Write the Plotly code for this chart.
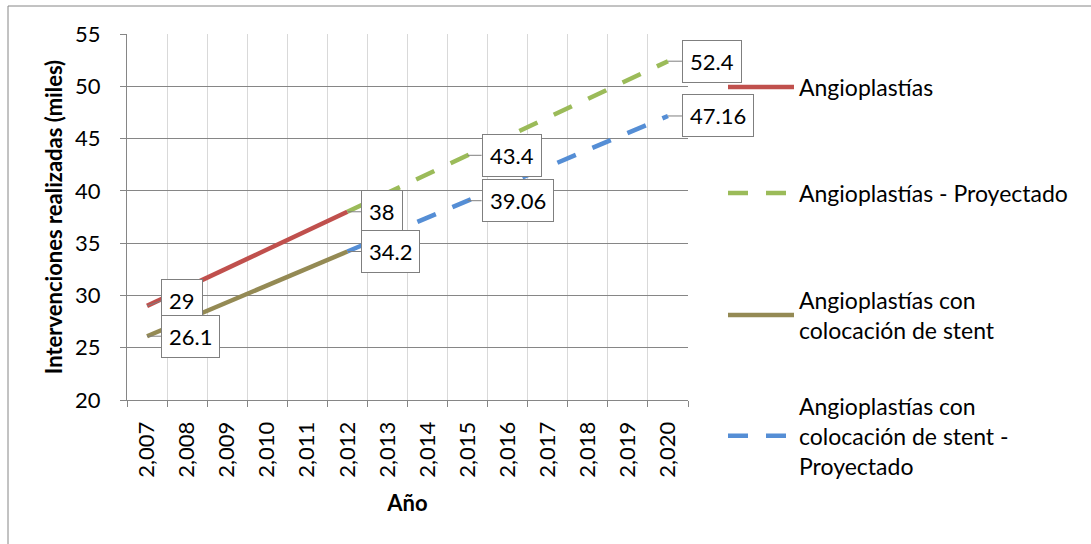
import plotly.graph_objects as go

# ---------------- data ----------------
years_real = [2007, 2008, 2009, 2010, 2011, 2012]
years_proj = [2012, 2013, 2014, 2015, 2016, 2017, 2018, 2019, 2020]

angioplastias = [29, 30.8, 32.6, 34.4, 36.2, 38]
angioplastias_proj = [38, 39.8, 41.6, 43.4, 45.2, 47.0, 48.8, 50.6, 52.4]
stent = [26.1, 27.72, 29.34, 30.96, 32.58, 34.2]
stent_proj = [34.2, 35.82, 37.44, 39.06, 40.68, 42.3, 43.92, 45.54, 47.16]

tick_years = [2007, 2008, 2009, 2010, 2011, 2012, 2013, 2014,
              2015, 2016, 2017, 2018, 2019, 2020]
tick_labels = ["2,007", "2,008", "2,009", "2,010", "2,011", "2,012", "2,013",
               "2,014", "2,015", "2,016", "2,017", "2,018", "2,019", "2,020"]

names = ["Angioplastías",
         "Angioplastías - Proyectado",
         "Angioplastías con<br>colocación de stent",
         "Angioplastías con<br>colocación de stent -<br>Proyectado"]
colors = ["#C0504D", "#9BBB59", "#948A54", "#558ED5"]

FONT = "Lato, 'Open Sans', sans-serif"
GRID_DARK = "#868686"
GRID_LIGHT = "#D9D9D9"
FS = 22

fig = go.Figure()

series = [
    (years_real, angioplastias, "solid", "legend"),
    (years_proj, angioplastias_proj, "20px,18px", "legend2"),
    (years_real, stent, "solid", "legend3"),
    (years_proj, stent_proj, "20px,18px", "legend4"),
]
for (xs, ys, dash, lg), name, col in zip(series, names, colors):
    fig.add_trace(go.Scatter(
        x=xs, y=ys, mode="lines", name=name, legend=lg,
        line=dict(color=col, width=4.5, dash=dash),
        hoverinfo="skip",
    ))

# data labels (callouts): (x, y, vertical offset px)
labels = [
    (years_real[0], angioplastias[0], -5),
    (years_real[-1], angioplastias[-1], 0),
    (years_proj[3], angioplastias_proj[3], 0),
    (years_proj[-1], angioplastias_proj[-1], 0),
    (years_real[0], stent[0], 0),
    (years_real[-1], stent[-1], 0),
    (years_proj[3], stent_proj[3], 0),
    (years_proj[-1], stent_proj[-1], 0),
]
for x, y, dy in labels:
    fig.add_annotation(
        x=x, y=y, text=f"{y:g}", showarrow=True,
        ax=14, ay=dy, xanchor="left", yanchor="middle",
        arrowhead=0, arrowwidth=1, arrowcolor="#7F7F7F",
        bgcolor="white", bordercolor="#7F7F7F", borderwidth=1, borderpad=7,
        font=dict(family=FONT, size=FS, color="black"),
    )

# legends placed individually
L, R, T, B = 127, 403, 34, 144
W, H = 1091, 544
pw, ph = W - L - R, H - T - B

def px2x(px):
    return (px - L) / pw

def py2y(py):
    return (H - B - py) / ph

legend_centers = [87, 193, 315, 436]
legend_keys = ["legend", "legend2", "legend3", "legend4"]
layout_legends = {}
for key, cy in zip(legend_keys, legend_centers):
    layout_legends[key] = dict(
        x=px2x(723), y=py2y(cy), xanchor="left", yanchor="middle",
        bgcolor="rgba(0,0,0,0)", borderwidth=0, itemwidth=66,
        font=dict(family=FONT, size=23, color="black"),
    )

fig.update_layout(
    width=W, height=H,
    margin=dict(l=L, r=R, t=T, b=B),
    paper_bgcolor="white", plot_bgcolor="white",
    font=dict(family=FONT, size=FS, color="black"),
    showlegend=True,
    **layout_legends,
    shapes=[dict(type="rect", xref="paper", yref="paper",
                 x0=px2x(8), x1=px2x(1100), y0=py2y(560), y1=py2y(6),
                 line=dict(color=GRID_DARK, width=1), fillcolor="rgba(0,0,0,0)",
                 layer="below")],
)

fig.update_xaxes(
    range=[2006.5, 2020.5],
    tickmode="array", tickvals=tick_years, ticktext=tick_labels,
    tickangle=-90, ticks="", showgrid=False, zeroline=False,
    ticklabelstandoff=12,
    showline=True, linecolor=GRID_DARK, linewidth=1,
    tickfont=dict(family=FONT, size=FS, color="black"),
    minor=dict(tick0=2006.5, dtick=1, showgrid=True, gridcolor=GRID_LIGHT,
               gridwidth=1, ticks="outside", ticklen=6, tickcolor=GRID_DARK),
    title=dict(text="<b>Año</b>", standoff=18,
               font=dict(family=FONT, size=FS, color="black")),
)
fig.update_yaxes(
    range=[20, 55], tick0=20, dtick=5, zeroline=False,
    showgrid=True, gridcolor=GRID_DARK, gridwidth=1,
    showline=True, linecolor=GRID_DARK, linewidth=1,
    ticks="outside", ticklen=6, tickcolor=GRID_DARK,
    ticklabelstandoff=15,
    tickfont=dict(family=FONT, size=FS, color="black"),
    title=dict(text="<b>Intervenciones realizadas (miles)</b>", standoff=6,
               font=dict(family=FONT, size=FS, color="black")),
)

fig.write_html("out.html")
